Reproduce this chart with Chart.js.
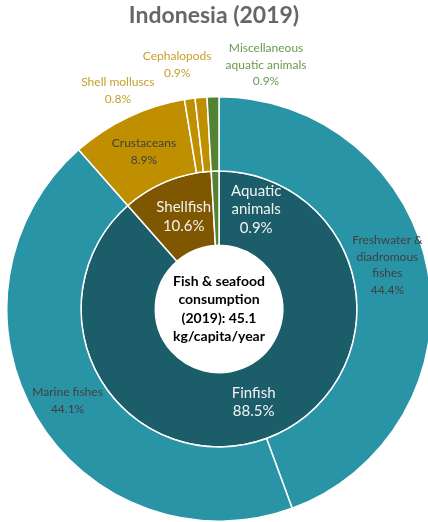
<!DOCTYPE html>
<html>
<head>
<meta charset="utf-8">
<script src="https://cdn.jsdelivr.net/npm/chart.js@4.4.1/dist/chart.umd.min.js"></script>
<style>
  html, body { margin: 0; padding: 0; width: 428px; height: 522px; overflow: hidden; background: #fff; }
  #title { position: absolute; left: 0; top: 0px; width: 428px; text-align: center;
           font-family: Lato, "Open Sans", sans-serif; font-weight: bold; font-size: 23px; color: #666; }
  #wrap { position: absolute; left: 0; top: 0; width: 438px; height: 522px; }
</style>
</head>
<body>
<div id="wrap"><canvas id="c" width="438" height="522"></canvas></div>
<div id="title">Indonesia (2019)</div>
<script>
// ---- data ----
const outerCategories = ["Freshwater & diadromous fishes", "Marine fishes", "Crustaceans", "Shell molluscs", "Cephalopods", "Miscellaneous aquatic animals"];
const outerValues = [44.4, 44.1, 8.9, 0.8, 0.9, 0.9];
const innerCategories = ["Finfish", "Shellfish", "Aquatic animals"];
const innerValues = [88.5, 10.6, 0.9];
const centerText = ["Fish & seafood", "consumption", "(2019): 45.1", "kg/capita/year"];

// ---- styles ----
const outerColors = ["#2A94A7", "#2A94A7", "#BF8F00", "#BF8F00", "#BF8F00", "#548235"];
const innerColors = ["#1B5E6A", "#7F5700", "#548235"];
const outerLabelLines = [["Freshwater &", "diadromous", "fishes"], ["Marine fishes"], ["Crustaceans"], ["Shell molluscs"], ["Cephalopods"], ["Miscellaneous", "aquatic animals"]];
const innerLabelLines = [["Finfish"], ["Shellfish"], ["Aquatic", "animals"]];
const outerLabelColors = ["#404040", "#404040", "#404040", "#C9A02A", "#C9A02A", "#6A9A4E"];
const innerLabelColors = ["#F2F2F2", "#F2F2F2", "#F2F2F2"];
// label offsets from the arc centroid (pixels), visual tweak only
const outerOffsets = [[-4, -13], [-1, 2], [0, 1], [-77, -45], [-27, -70], [52, -69]];
const innerOffsets = [[-1, -1], [3, 1], [40, 1]];

const fontFam = 'Lato, "Open Sans", sans-serif';

const labelPlugin = {
  id: 'sliceLabels',
  afterDraw(chart) {
    const ctx = chart.ctx;
    ctx.save();
    ctx.textAlign = 'center';
    ctx.textBaseline = 'middle';
    const sets = [
      { ds: 0, lines: outerLabelLines, vals: outerValues, colors: outerLabelColors, offs: outerOffsets, size: 12, lh: 16.5 },
      { ds: 1, lines: innerLabelLines, vals: innerValues, colors: innerLabelColors, offs: innerOffsets, size: 15, lh: 18.5 }
    ];
    sets.forEach(s => {
      const meta = chart.getDatasetMeta(s.ds);
      meta.data.forEach((arc, i) => {
        const p = arc.getProps(['x', 'y', 'startAngle', 'endAngle', 'innerRadius', 'outerRadius'], true);
        const a = (p.startAngle + p.endAngle) / 2;
        const r = (p.innerRadius + p.outerRadius) / 2;
        const cx = p.x + Math.cos(a) * r + s.offs[i][0];
        const cy = p.y + Math.sin(a) * r + s.offs[i][1];
        const lines = s.lines[i].concat([s.vals[i].toFixed(1) + '%']);
        ctx.font = s.size + 'px ' + fontFam;
        ctx.fillStyle = s.colors[i];
        const y0 = cy - (lines.length - 1) * s.lh / 2;
        lines.forEach((t, k) => ctx.fillText(t, cx, y0 + k * s.lh));
      });
    });
    // center text
    const m = chart.getDatasetMeta(1).data[0];
    ctx.font = 'bold 14px ' + fontFam;
    ctx.fillStyle = '#000';
    const lh = 18.5;
    const y0 = m.y - (centerText.length - 1) * lh / 2;
    centerText.forEach((t, k) => ctx.fillText(t, m.x, y0 + k * lh));
    ctx.restore();
  }
};

new Chart(document.getElementById('c'), {
  type: 'doughnut',
  data: {
    labels: outerCategories,
    datasets: [
      { data: outerValues, backgroundColor: outerColors, borderColor: '#fff', borderWidth: 1.5 },
      { data: innerValues, backgroundColor: innerColors, borderColor: '#fff', borderWidth: 1.5 }
    ]
  },
  options: {
    responsive: false,
    animation: false,
    cutout: '30%',
    layout: { padding: { top: 96, bottom: 0, left: 6, right: 6 } },
    plugins: { legend: { display: false }, tooltip: { enabled: false }, title: { display: false } }
  },
  plugins: [labelPlugin]
});
</script>
</body>
</html>
